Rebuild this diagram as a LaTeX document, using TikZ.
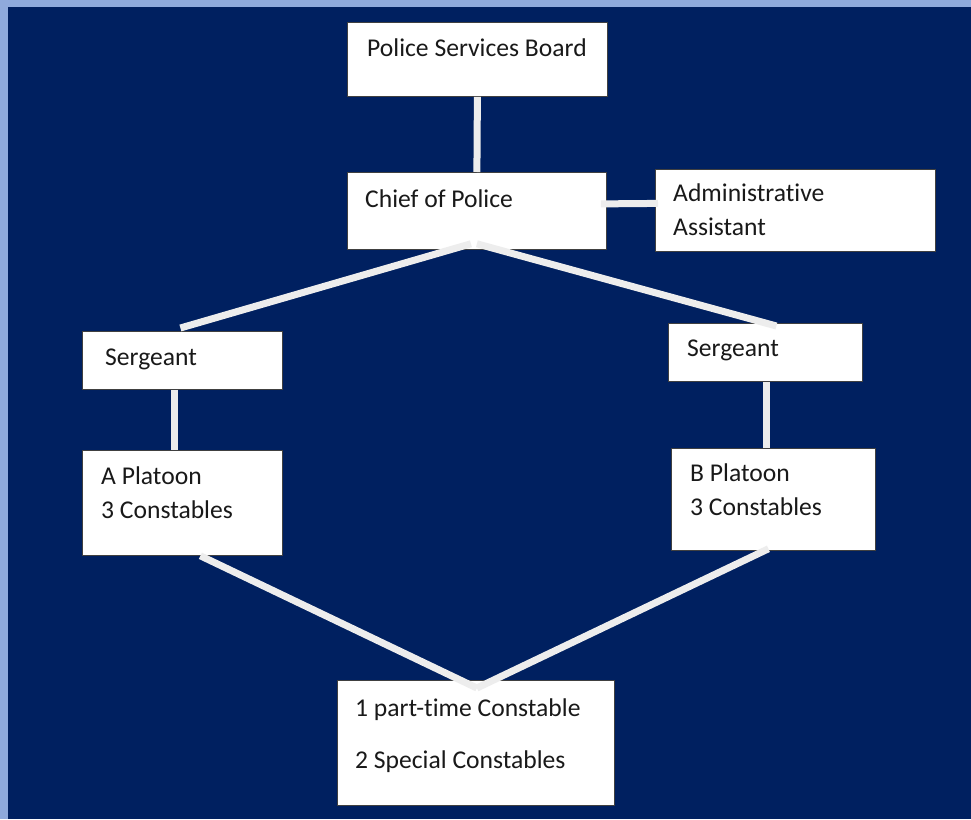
\documentclass[tikz,border=0pt]{standalone}
\usepackage{fontspec}
\setmainfont[Ligatures={NoCommon,NoRare}]{Carlito}
\definecolor{navy}{HTML}{002060}
\definecolor{frame}{HTML}{8FAADC}
\definecolor{linegray}{HTML}{EDEDED}
\definecolor{boxedge}{HTML}{404040}
\tikzset{
  box/.style={draw=boxedge, line width=0.8pt, fill=white, inner sep=0pt, anchor=north west},
  lbl/.style={anchor=base west, inner sep=0pt, text=black!90, font=\fontsize{25.6}{30}\selectfont},
  conn/.style={draw=linegray, line width=7pt},
}
\begin{document}
\begin{tikzpicture}[x=1pt,y=-1pt]
\useasboundingbox (0,0) rectangle (971,819);
\fill[frame] (0,0) rectangle (971,819);
\fill[navy] (8,7) rectangle (971,819);
% boxes
\node[box, minimum width=260pt, minimum height=74pt] (psb) at (347,22) {};
\node[box, minimum width=259pt, minimum height=77pt] (chief) at (347,172) {};
\node[box, minimum width=280pt, minimum height=82pt] (admin) at (655,169) {};
\node[box, minimum width=200pt, minimum height=58pt] (sgtL) at (82,331) {};
\node[box, minimum width=194pt, minimum height=58pt] (sgtR) at (668,323) {};
\node[box, minimum width=200pt, minimum height=105pt] (platA) at (82,450) {};
\node[box, minimum width=204pt, minimum height=102pt] (platB) at (671,448) {};
\node[box, minimum width=277pt, minimum height=125pt] (bot) at (337,680) {};
% connectors
\draw[conn] (psb.south) -- (chief.north);
\draw[conn] ([shift={(-6,-7)}]chief.east) -- ([shift={(3,-7)}]admin.west);
\draw[conn] ([shift={(-6,-6)}]chief.south) -- ([shift={(-2,-3)}]sgtL.north);
\draw[conn] ([shift={(0,-6)}]chief.south) -- ([shift={(11,3)}]sgtR.north);
\draw[conn] ([shift={(-8,0)}]sgtL.south) -- ([shift={(-8,0)}]platA.north);
\draw[conn] ([shift={(1,0)}]sgtR.south) -- ([shift={(1,0)}]sgtR.south |- platB.north);
\draw[conn] ([shift={(18,0)}]platA.south) -- ([shift={(1,8)}]bot.north);
\draw[conn] ([shift={(-5,-2)}]platB.south) -- ([shift={(1,8)}]bot.north);
% labels
\node[lbl] (psbT) at (367,56) {Police Services Board};
\node[lbl] (chiefT) at (365,207) {Chief of Police};
\node[lbl] (adminT1) at (673,201) {Administrative};
\node[lbl] (adminT2) at (673,235) {Assistant};
\node[lbl] (sgtLT) at (105,365) {Sergeant};
\node[lbl] (sgtRT) at (687,356) {Sergeant};
\node[lbl] (platAT1) at (101,484) {A Platoon};
\node[lbl] (platAT2) at (101,518) {3 Constables};
\node[lbl] (platBT1) at (690,481) {B Platoon};
\node[lbl] (platBT2) at (690,515) {3 Constables};
\node[lbl] (botT1) at (355,716) {1 part-time Constable};
\node[lbl] (botT2) at (355,768) {2 Special Constables};
\end{tikzpicture}
\end{document}
